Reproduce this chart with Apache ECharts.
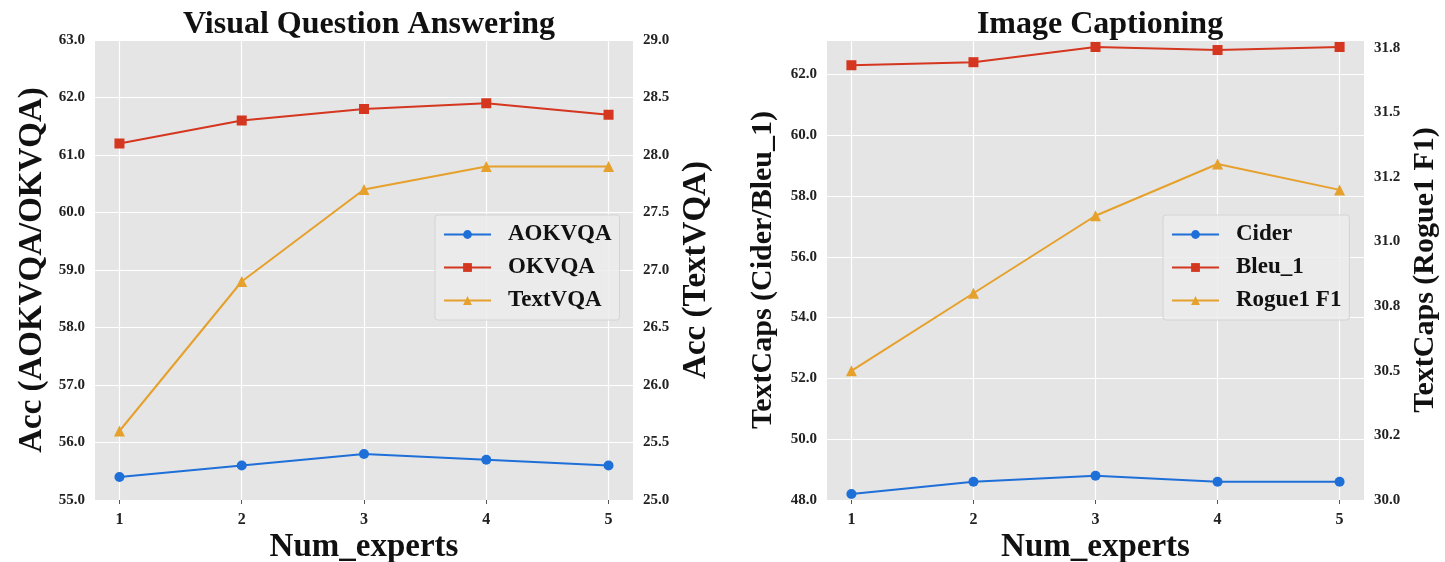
<!DOCTYPE html>
<html>
<head>
<meta charset="utf-8">
<script src="https://cdn.jsdelivr.net/npm/echarts@6/dist/echarts.min.js"></script>
<style>
  html, body { margin: 0; padding: 0; background: #fff; }
  #chart { width: 1445px; height: 562px; }
</style>
</head>
<body>
<div id="chart"></div>
<script>
// x values (number of experts)
const experts = [1, 2, 3, 4, 5];

// Visual Question Answering
const aokvqa = [55.4, 55.6, 55.8, 55.7, 55.6];
const okvqa = [61.2, 61.6, 61.8, 61.9, 61.7];
const textvqa = [25.6, 26.9, 27.7, 27.9, 27.9];

// Image Captioning
const cider = [48.2, 48.6, 48.8, 48.6, 48.6];
const bleu1 = [62.3, 62.4, 62.9, 62.8, 62.9];
const rogue1F1 = [30.5, 30.8, 31.1, 31.3, 31.2];

const serif = "'Liberation Serif', 'DejaVu Serif', serif";
const colors = { blue: "#1f6fd8", red: "#d4361f", orange: "#e6a02c" };
const plotBg = "#e5e5e5";

// mimic python "%.1f" (round half to even), e.g. 30.25 -> 30.2, 30.75 -> 30.8
function fmt1(v) {
  const x = v * 10;
  const f = Math.floor(x + 1e-9);
  const d = x - f;
  let r;
  if (Math.abs(d - 0.5) < 1e-6) r = f % 2 === 0 ? f : f + 1;
  else r = Math.round(x);
  return (r / 10).toFixed(1);
}

function pairs(values) {
  return values.map((v, i) => [experts[i], v]);
}

function line(name, values, color, symbol, size, xIdx, yIdx) {
  return {
    name,
    type: "line",
    xAxisIndex: xIdx,
    yAxisIndex: yIdx,
    data: pairs(values),
    symbol,
    symbolSize: size,
    showAllSymbol: true,
    lineStyle: { color, width: 2 },
    itemStyle: { color },
    z: 3
  };
}

const tickFont = { fontFamily: serif, fontWeight: "bold", fontSize: 15, color: "#222" };
const nameFont = { fontFamily: serif, fontWeight: "bold", fontSize: 32, color: "#111" };

function xAxis(gridIndex) {
  return {
    gridIndex,
    type: "value",
    min: 0.8,
    max: 5.2,
    axisLine: { show: false },
    axisTick: { show: true, customValues: experts, length: 4, lineStyle: { color: "#555" } },
    axisLabel: { ...tickFont, fontSize: 16, customValues: experts, margin: 12 },
    splitLine: { show: true, lineStyle: { color: "#fff", width: 1.2 } },
    name: "Num_experts",
    nameLocation: "middle",
    nameGap: 31,
    nameMoveOverlap: false,
    nameTextStyle: { ...nameFont, fontSize: 33 }
  };
}

function yAxis(gridIndex, opts) {
  return {
    gridIndex,
    type: "value",
    nameLocation: "middle",
    nameMoveOverlap: false,
    nameTextStyle: { ...nameFont, fontSize: opts.nameSize || 33 },
    axisLine: { show: false },
    axisTick: { show: false },
    axisLabel: { ...tickFont, margin: 10, showMaxLabel: opts.showMax !== false, formatter: opts.formatter || ((v) => v.toFixed(1)) },
    splitLine: { show: !!opts.grid, lineStyle: { color: "#fff", width: 1.2 } },
    ...opts.axis
  };
}

const legendBox = {
  orient: "vertical",
  itemWidth: 47,
  itemHeight: 11,
  itemGap: 10,
  padding: [8, 8, 8, 8],
  backgroundColor: "rgba(236,236,236,0.85)",
  borderColor: "#d4d4d4",
  borderWidth: 1,
  borderRadius: 3,
  textStyle: { fontFamily: serif, fontWeight: "bold", fontSize: 23, color: "#111", padding: [0, 0, 0, 12] }
};

const chart = echarts.init(document.getElementById("chart"), null, { renderer: "canvas" });

chart.setOption({
  animation: false,
  backgroundColor: "#fff",
  title: [
    { text: "Visual Question Answering", left: 364, top: 4, textAlign: "center",
      textStyle: { fontFamily: serif, fontWeight: "bold", fontSize: 32, color: "#111" } },
    { text: "Image Captioning", left: 1095, top: 4, textAlign: "center",
      textStyle: { fontFamily: serif, fontWeight: "bold", fontSize: 32, color: "#111" } }
  ],
  grid: [
    { left: 95, right: 812, top: 40, bottom: 62, show: true, backgroundColor: plotBg, borderWidth: 0, outerBoundsMode: "none", containLabel: false },
    { left: 827, right: 81, top: 40, bottom: 62, show: true, backgroundColor: plotBg, borderWidth: 0, outerBoundsMode: "none", containLabel: false }
  ],
  legend: [
    { ...legendBox, left: 435, top: 215, data: ["AOKVQA", "OKVQA", "TextVQA"] },
    { ...legendBox, left: 1163, top: 215, data: ["Cider", "Bleu_1", "Rogue1 F1"] }
  ],
  xAxis: [xAxis(0), xAxis(1)],
  yAxis: [
    yAxis(0, { grid: true, axis: { min: 55, max: 63, interval: 1, name: "Acc (AOKVQA/OKVQA)", nameGap: 46, position: "left" } }),
    yAxis(0, { axis: { min: 25, max: 29, interval: 0.5, name: "Acc (TextVQA)", nameGap: 47, position: "right" } }),
    yAxis(1, { grid: true, showMax: false, nameSize: 30, axis: { min: 48, max: 63.13, interval: 2, name: "TextCaps (Cider/Bleu_1)", nameGap: 49, position: "left" } }),
    yAxis(1, { showMax: false, nameSize: 30, formatter: fmt1, axis: { min: 30, max: 31.78, interval: 0.25, name: "TextCaps (Rogue1 F1)", nameGap: 46, position: "right" } })
  ],
  series: [
    line("AOKVQA", aokvqa, colors.blue, "circle", 10, 0, 0),
    line("OKVQA", okvqa, colors.red, "rect", 10, 0, 0),
    line("TextVQA", textvqa, colors.orange, "triangle", 11, 0, 1),
    line("Cider", cider, colors.blue, "circle", 10, 1, 2),
    line("Bleu_1", bleu1, colors.red, "rect", 10, 1, 2),
    line("Rogue1 F1", rogue1F1, colors.orange, "triangle", 11, 1, 3)
  ]
});
</script>
</body>
</html>
